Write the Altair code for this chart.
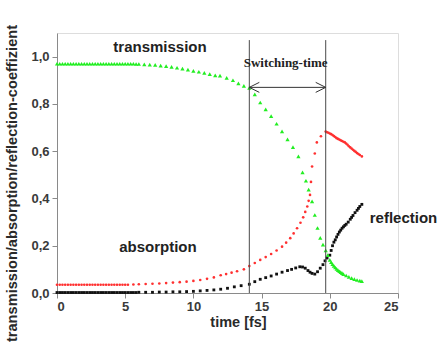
import altair as alt
import pandas as pd

# ---- data ----
trans_t = [0.0, 0.2, 0.4, 0.6, 0.8, 1.0, 1.2, 1.4, 1.6, 1.8, 2.0, 2.2, 2.4, 2.6, 2.8, 3.0,
           3.2, 3.4, 3.6, 3.8, 4.0, 4.2, 4.4, 4.6, 4.8, 5.0, 5.2, 5.4, 5.6, 5.8, 6.0,
           6.4, 6.8, 7.2, 7.6, 8.0, 8.4, 8.8, 9.2, 9.6, 10.0, 10.4, 10.8, 11.2, 11.6,
           11.95, 12.44, 12.9, 13.3, 13.7, 14.1, 14.5, 14.9, 15.3, 15.7, 16.1, 16.5,
           16.9, 17.3, 17.7, 18.0, 18.25, 18.45, 18.7, 18.9, 19.1, 19.3, 19.5, 19.7,
           19.85, 20.0, 20.1, 20.2, 20.3, 20.4, 20.5, 20.6, 20.7, 20.8, 20.9, 21.0,
           21.2, 21.4, 21.6, 21.8, 22.0, 22.2, 22.35]
trans_v = [0.97, 0.97, 0.97, 0.97, 0.97, 0.97, 0.97, 0.97, 0.97, 0.97, 0.97, 0.97, 0.97,
           0.97, 0.97, 0.97, 0.97, 0.97, 0.97, 0.97, 0.97, 0.97, 0.97, 0.97, 0.97, 0.97,
           0.97, 0.97, 0.97, 0.969, 0.969,
           0.967, 0.966, 0.965, 0.962, 0.96, 0.957, 0.953, 0.949, 0.945, 0.94, 0.936,
           0.931, 0.926, 0.921,
           0.92, 0.91, 0.90, 0.887, 0.876, 0.868, 0.84, 0.806, 0.777, 0.748, 0.716, 0.684,
           0.65, 0.617, 0.578, 0.51, 0.475, 0.437, 0.388, 0.33, 0.275, 0.233, 0.205, 0.18,
           0.16, 0.14, 0.13, 0.122, 0.115, 0.108, 0.102, 0.097, 0.092, 0.088, 0.084, 0.08,
           0.074, 0.068, 0.063, 0.059, 0.055, 0.052, 0.05]

abs_t = [0.0, 0.2, 0.4, 0.6, 0.8, 1.0, 1.2, 1.4, 1.6, 1.8, 2.0, 2.2, 2.4, 2.6, 2.8, 3.0,
         3.2, 3.4, 3.6, 3.8, 4.0, 4.2, 4.4, 4.6, 4.8, 5.0, 5.2,
         5.6, 6.0, 6.5, 7.0, 7.5, 8.0, 8.5, 9.0, 9.5, 10.0, 10.5, 11.0, 11.5, 12.0,
         12.4, 12.8, 13.2, 13.7, 14.1, 14.5, 14.9, 15.3, 15.7, 16.1, 16.5, 16.8, 17.1,
         17.35, 17.6, 17.85, 18.05, 18.2, 18.35, 18.45, 18.55, 18.62, 18.7, 18.9, 19.05,
         19.35, 19.7, 19.8, 19.9, 20.0, 20.1, 20.2, 20.3, 20.4, 20.5, 20.6, 20.7, 20.8,
         20.9, 21.0, 21.1, 21.2, 21.3, 21.4, 21.5, 21.6, 21.7, 21.8, 21.9, 22.0, 22.1,
         22.2, 22.35]
abs_v = [0.035, 0.035, 0.035, 0.035, 0.035, 0.035, 0.035, 0.035, 0.035, 0.035, 0.035,
         0.035, 0.035, 0.035, 0.035, 0.035, 0.035, 0.035, 0.035, 0.035, 0.035, 0.035,
         0.035, 0.035, 0.035, 0.035, 0.035,
         0.036, 0.037, 0.038, 0.039, 0.04, 0.042, 0.044, 0.046, 0.048, 0.051, 0.055,
         0.06, 0.066, 0.075,
         0.08, 0.086, 0.092, 0.10, 0.114, 0.127, 0.14, 0.152, 0.165, 0.18, 0.196, 0.213,
         0.232, 0.252, 0.274, 0.297, 0.32, 0.343, 0.366, 0.39, 0.415, 0.47, 0.535, 0.59,
         0.637, 0.663, 0.683, 0.68, 0.678, 0.675, 0.672, 0.668, 0.664, 0.66, 0.655,
         0.652, 0.649, 0.646, 0.643, 0.64, 0.637, 0.632, 0.627, 0.621, 0.616, 0.611,
         0.606, 0.601, 0.597, 0.592, 0.588, 0.584, 0.578]

refl_t = [0.0, 0.2, 0.4, 0.6, 0.8, 1.0, 1.2, 1.4, 1.6, 1.8, 2.0, 2.2, 2.4, 2.6, 2.8, 3.0,
          3.2, 3.4, 3.6, 3.8, 4.0, 4.2, 4.4, 4.6, 4.8, 5.0, 5.2, 5.4, 5.6, 5.8, 6.0,
          6.5, 7.0, 7.5, 8.0, 8.5, 9.0, 9.5, 10.0, 10.5, 11.0, 11.5, 12.0, 12.5, 13.0,
          13.5, 14.1, 14.5, 14.9, 15.3, 15.7, 16.1, 16.5, 16.9, 17.2, 17.5, 17.8, 18.0,
          18.2, 18.4, 18.55, 18.7, 18.9, 19.1, 19.3, 19.5, 19.65, 19.8, 20.0, 20.1,
          20.2, 20.3, 20.4, 20.5, 20.6, 20.7, 20.8, 20.9, 21.0, 21.1, 21.2, 21.35, 21.5,
          21.6, 21.7, 21.85, 22.0, 22.1, 22.2, 22.35]
refl_v = [0.002, 0.002, 0.002, 0.002, 0.002, 0.002, 0.002, 0.002, 0.002, 0.002, 0.002,
          0.002, 0.002, 0.002, 0.002, 0.002, 0.002, 0.002, 0.002, 0.002, 0.002, 0.002,
          0.002, 0.002, 0.002, 0.002, 0.002, 0.002, 0.002, 0.002, 0.003,
          0.003, 0.003, 0.004, 0.004, 0.005, 0.005, 0.006, 0.007, 0.009, 0.011, 0.013,
          0.016, 0.02, 0.026,
          0.031, 0.037, 0.048, 0.058, 0.065, 0.072, 0.08, 0.088, 0.095, 0.10, 0.106,
          0.111, 0.11, 0.105, 0.095, 0.088, 0.083, 0.08, 0.09, 0.105, 0.12, 0.136,
          0.148, 0.16, 0.18, 0.2, 0.215, 0.225, 0.237, 0.248, 0.258, 0.266, 0.274, 0.28,
          0.286, 0.291, 0.30, 0.312, 0.32, 0.328, 0.34, 0.35, 0.358, 0.366, 0.375]

switch_times = [14.1, 19.7]
switch_top = 1.07
arrow_level = 0.87

label_text = ["transmission", "absorption", "reflection"]
label_t = [7.55, 7.4, 25.4]
label_v = [1.042, 0.195, 0.318]

switch_label = "Switching-time"
switch_label_t = 16.76
switch_label_v = 0.975

x_ticks = [0, 2.5, 5, 7.5, 10, 12.5, 15, 17.5, 20, 22.5, 25]
y_ticks = [0, 0.1, 0.2, 0.3, 0.4, 0.5, 0.6, 0.7, 0.8, 0.9, 1.0, 1.1]

# ---- frames ----
df_t = pd.DataFrame({"t": trans_t, "v": trans_v})
df_a = pd.DataFrame({"t": abs_t, "v": abs_v})
df_r = pd.DataFrame({"t": refl_t, "v": refl_v})
df_sw = pd.DataFrame({"t": switch_times, "y0": [0, 0], "y1": [switch_top, switch_top]})
df_arrow = pd.DataFrame({"t0": [switch_times[0]], "t1": [switch_times[1]], "v": [arrow_level]})
df_heads = pd.DataFrame({"t": switch_times, "v": [arrow_level, arrow_level],
                         "side": ["L", "R"]})
df_lab = pd.DataFrame({"text": label_text, "t": label_t, "v": label_v})
df_sl = pd.DataFrame({"text": [switch_label], "t": [switch_label_t], "v": [switch_label_v]})

xscale = alt.Scale(domain=[0, 25], nice=False, zero=False)
yscale = alt.Scale(domain=[0, 1.1], nice=False, zero=False)

axis_common = dict(
    domainColor="#8a8a8a", tickColor="#8a8a8a", grid=False,
    labelFont="Liberation Sans", labelFontWeight="bold", labelFontSize=13,
    labelColor="#3a3a3a", titleFont="Liberation Sans", titleFontWeight="bold",
    titleColor="#2a2a2a",
)

x_axis = alt.Axis(
    values=x_ticks,
    labelExpr="datum.value % 5 == 0 ? format(datum.value, 'd') : ''",
    tickSize={"condition": {"test": "datum.value % 5 == 0", "value": 5}, "value": 3},
    labelPadding=2,
    title="time [fs]", titleFontSize=14.5, titleX=181, titleY=29,
    titleBaseline="middle", titleAlign="center",
    **axis_common,
)
y_axis = alt.Axis(
    values=y_ticks,
    labelExpr="round(datum.value*10) % 2 == 0 ? replace(format(datum.value, '.1f'), '.', ',') : ''",
    tickSize={"condition": {"test": "round(datum.value*10) % 2 == 0", "value": 5}, "value": 3},
    labelPadding=3,
    title="transmission/absorption/reflection-coeffizient", titleFontSize=14.6,
    titleX=-45, titleY=150, titleAngle=-90, titleBaseline="middle", titleAlign="center",
    **axis_common,
)

X = alt.X("t:Q", scale=xscale, axis=x_axis)
Y = alt.Y("v:Q", scale=yscale, axis=y_axis)

rules = alt.Chart(df_sw).mark_rule(color="#4a4a4a", strokeWidth=1).encode(
    x=alt.X("t:Q", scale=xscale), y=alt.Y("y0:Q", scale=yscale), y2="y1:Q")

arrow_line = alt.Chart(df_arrow).mark_rule(color="#333333", strokeWidth=1).encode(
    x=alt.X("t0:Q", scale=xscale), x2="t1:Q", y=alt.Y("v:Q", scale=yscale))

head_l = alt.Chart(df_heads[df_heads.side == "L"]).mark_point(
    shape="M2,-1L0,0L2,1", filled=False, size=100, color="#333333", strokeWidth=1, opacity=1
).encode(x=alt.X("t:Q", scale=xscale), y=alt.Y("v:Q", scale=yscale))
head_r = alt.Chart(df_heads[df_heads.side == "R"]).mark_point(
    shape="M-2,-1L0,0L-2,1", filled=False, size=100, color="#333333", strokeWidth=1, opacity=1
).encode(x=alt.X("t:Q", scale=xscale), y=alt.Y("v:Q", scale=yscale))

pts_a = alt.Chart(df_a).mark_point(shape="circle", filled=True, size=7, color="#ff3030",
                                    opacity=1).encode(x=X, y=Y)
pts_r = alt.Chart(df_r).mark_point(shape="square", filled=True, size=8, color="#111111",
                                    opacity=1).encode(x=X, y=Y)
pts_t = alt.Chart(df_t).mark_point(shape="triangle-up", filled=True, size=18, color="#22ee22",
                                    opacity=1).encode(x=X, y=Y)

labels = alt.Chart(df_lab).mark_text(
    font="Liberation Sans", fontWeight="bold", fontSize=15, color="#222222",
    align="center", baseline="middle"
).encode(x=alt.X("t:Q", scale=xscale), y=alt.Y("v:Q", scale=yscale), text="text:N")

slabel = alt.Chart(df_sl).mark_text(
    font="Liberation Serif", fontWeight="bold", fontSize=13, color="#222222",
    align="center", baseline="middle"
).encode(x=alt.X("t:Q", scale=xscale), y=alt.Y("v:Q", scale=yscale), text="text:N")

chart = alt.layer(
    pts_a, pts_r, pts_t, rules, arrow_line, head_l, head_r, labels, slabel
).properties(
    width=341, height=260,
    autosize=alt.AutoSizeParams(type="none"),
    padding={"left": 57, "top": 33, "right": 41, "bottom": 54},
).configure_view(stroke=None).configure(background="white")

chart.save("out.html", embed_options={"renderer": "svg", "actions": False})
